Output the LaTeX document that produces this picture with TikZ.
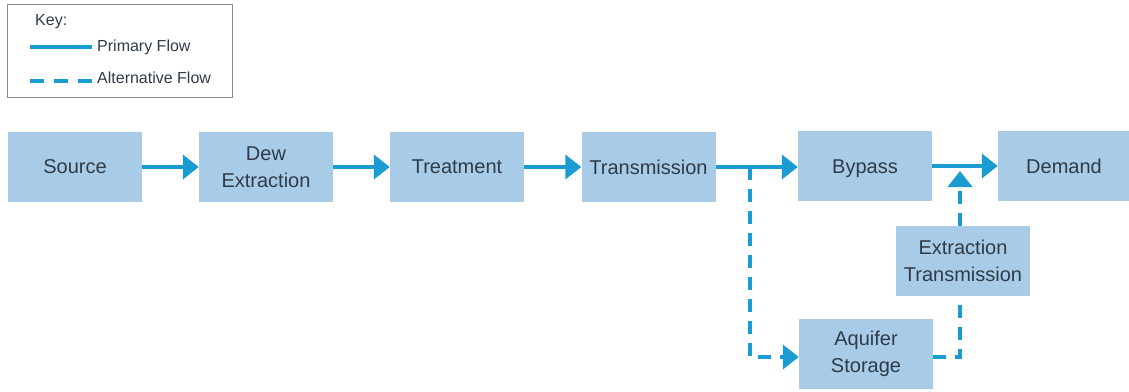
\documentclass[tikz,border=0pt]{standalone}
\usepackage{fontspec}
\setmainfont{Liberation Sans}
\usetikzlibrary{arrows.meta,calc}
\definecolor{boxfill}{HTML}{A8CCE8}
\definecolor{flow}{HTML}{1A9CD2}
\definecolor{txt}{HTML}{2F3B47}
\definecolor{keyframe}{HTML}{8A8A8A}
\tikzset{
  stagebox/.style={fill=boxfill, draw=none, inner sep=0pt, text=txt,
    font=\fontsize{20}{27}\selectfont, align=center,
    minimum width=134pt, minimum height=70pt},
  primflow/.style={draw=flow, line width=4.5pt, -{Triangle[length=16pt,width=24pt]}},
  altflow/.style={draw=flow, line width=4.5pt, dash pattern=on 13pt off 9pt, -{Triangle[length=16pt,width=24pt]}},
  altline/.style={draw=flow, line width=4.5pt, dash pattern=on 13pt off 9pt},
  keytext/.style={text=txt, font=\fontsize{16}{19}\selectfont, anchor=west, inner sep=0pt},
}
\begin{document}
\begin{tikzpicture}[x=1pt,y=-1pt]
\useasboundingbox (0,0) rectangle (1129,391);
% key
\node[draw=keyframe, line width=1pt, minimum width=225pt, minimum height=93pt, inner sep=0pt] (key) at (119.5,50.5) {};
\node[keytext] (keylbl) at (35,22) {Key:};
\coordinate (ks1) at (30,47);
\coordinate (ke1) at (92,47);
\coordinate (ks2) at (30,81);
\coordinate (ke2) at (92,81);
\draw[draw=flow, line width=4.5pt] (ks1) -- (ke1);
\draw[draw=flow, line width=4.5pt, dash pattern=on 14pt off 10pt] (ks2) -- (ke2);
\node[keytext] (prim) at (97,47) {Primary Flow};
\node[keytext] (alt) at (97,78) {Alternative Flow};
% stages
\node[stagebox] (src) at (75,167) {Source};
\node[stagebox] (dew) at (266,167) {Dew\\Extraction};
\node[stagebox] (trt) at (457,167) {Treatment};
\node[stagebox] (trm) at (648.5,167) {Transmission};
\node[stagebox, text depth=0pt, text height=14.5pt] (byp) at (865,166) {Bypass};
\node[stagebox, minimum width=132pt] (dem) at (1064,166) {Demand};
\node[stagebox] (ext) at (963,261) {Extraction\\Transmission};
\node[stagebox] (aq) at (866,354) {Aquifer\\Storage};
% primary flows
\draw[primflow] (src.east) -- (dew.west);
\draw[primflow] (dew.east) -- (trt.west);
\draw[primflow] (trt.east) -- (trm.west);
\draw[primflow] (trm.east) -- (byp.west |- trm.east);
\draw[primflow] (byp.east) -- (dem.west);
% alternative flows
\coordinate (br) at (750,167);
\coordinate (aqin) at ($(aq.west)+(0,3)$);
\coordinate (aqout) at ($(aq.east)+(0,3)$);
\coordinate (extbot) at (960,296);
\coordinate (exttop) at (960,226);
\coordinate (join) at (960,171);
\draw[altflow] (br) |- (aqin);
\draw[altline] (aqout) -| (extbot);
\draw[altflow] (exttop) -- (join);
\end{tikzpicture}
\end{document}
